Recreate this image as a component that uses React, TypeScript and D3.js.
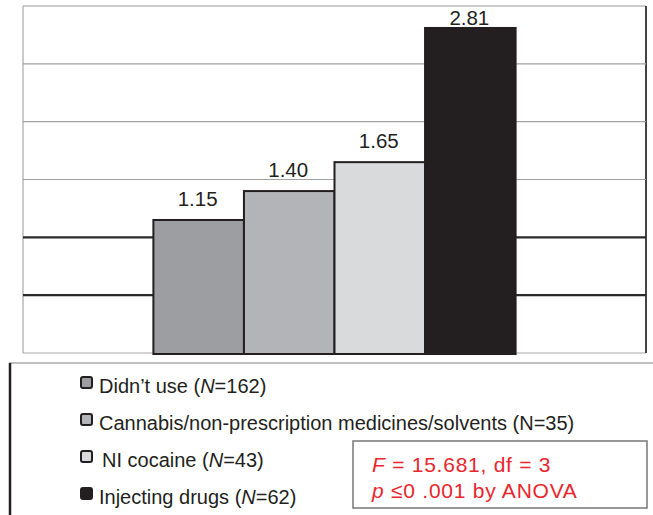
import React from "react";
import * as d3 from "d3";

const categories = [
  "Didn’t use (*N*=162)",
  "Cannabis/non-prescription medicines/solvents (N=35)",
  "NI cocaine (*N*=43)",
  "Injecting drugs (*N*=62)",
];
const values = [1.15, 1.4, 1.65, 2.81];
const valueLabels = ["1.15", "1.40", "1.65", "2.81"];
const colors = ["#9d9ea1", "#b3b4b7", "#d9dadc", "#231f20"];
const gridValues = [0.5, 1, 1.5, 2, 2.5];
const darkGrid = [0.5, 1];
const yDomain = [0, 3];
const statLines = ["*F* = 15.681, df = 3", "*p* ≤0 .001 by ANOVA"];

const W = 653;
const H = 515;
const FONT = "'Liberation Sans', Arial, Helvetica, sans-serif";

function parts(s: string) {
  return s.split("*").map((t, i) => ({ t, it: i % 2 === 1 }));
}

export default function App() {
  const plot = { left: 23, right: 646, top: 6, bottom: 353 };
  const y = d3.scaleLinear().domain(yDomain).range([plot.bottom, plot.top]);
  const x = d3
    .scaleBand<string>()
    .domain(categories)
    .range([plot.left, plot.right])
    .paddingInner(0)
    .paddingOuter(1.44);

  const legendTop = 363;
  const legendRow = 37;
  const firstBase = 393;

  return (
    <svg
      width={W}
      height={H}
      style={{ position: "absolute", left: 0, top: 0, background: "#fff" }}
      fontFamily={FONT}
    >
      {/* light frame */}
      <line x1={plot.left} x2={plot.right} y1={y(3)} y2={y(3)} stroke="#9a9a9a" strokeWidth={1.2} />
      <line x1={plot.left} x2={plot.left} y1={y(3)} y2={plot.bottom} stroke="#a8a8a8" strokeWidth={1.2} />
      <line x1={plot.left} x2={plot.right} y1={plot.bottom} y2={plot.bottom} stroke="#a8a8a8" strokeWidth={1.2} />
      <line x1={plot.right} x2={plot.right} y1={y(3)} y2={plot.bottom} stroke="#444" strokeWidth={2} />
      {/* grid */}
      {gridValues.map((g) => (
        <line
          key={g}
          x1={plot.left}
          x2={plot.right}
          y1={y(g)}
          y2={y(g)}
          stroke={darkGrid.includes(g) ? "#2a2a2a" : "#a0a0a0"}
          strokeWidth={darkGrid.includes(g) ? 2.2 : 1.2}
        />
      ))}
      {/* bars */}
      {categories.map((c, i) => (
        <rect
          key={c}
          x={x(c)!}
          y={y(values[i])}
          width={x.bandwidth()}
          height={y(0) - y(values[i]) + 1}
          fill={colors[i]}
          stroke="#231f20"
          strokeWidth={2}
        />
      ))}
      {categories.map((c, i) => (
        <text
          key={"l" + c}
          x={x(c)! + x.bandwidth() / 2 - 1}
          y={Math.max(y(values[i]) - 14, y(3) + 19)}
          textAnchor="middle"
          fontSize={20.5}
          fill="#231f20"
        >
          {valueLabels[i]}
        </text>
      ))}
      {/* legend frame */}
      <line x1={9} x2={W} y1={legendTop} y2={legendTop} stroke="#a8a8a8" strokeWidth={1.5} />
      <line x1={10} x2={10} y1={legendTop} y2={H} stroke="#231f20" strokeWidth={2.5} />
      {categories.map((c, i) => {
        const base = firstBase + i * legendRow;
        return (
          <g key={"lg" + c}>
            <rect
              x={81}
              y={base - 16}
              width={11}
              height={11}
              rx={2}
              fill={colors[i]}
              stroke="#231f20"
              strokeWidth={2}
            />
            <text x={i === 2 ? 102 : 99} y={base} fontSize={20} fill="#231f20">
              {parts(c).map((p, k) => (
                <tspan key={k} fontStyle={p.it ? "italic" : "normal"}>
                  {p.t}
                </tspan>
              ))}
            </text>
          </g>
        );
      })}
      {/* stats box */}
      <rect x={353} y={441} width={294} height={67} fill="#fff" stroke="#777" strokeWidth={1.5} />
      {statLines.map((s, i) => (
        <text key={s} x={372} y={472 + i * 26} fontSize={21} letterSpacing={0.75} fill="#e8262d">
          {parts(s).map((p, k) => (
            <tspan key={k} fontStyle={p.it ? "italic" : "normal"}>
              {p.t}
            </tspan>
          ))}
        </text>
      ))}
    </svg>
  );
}
